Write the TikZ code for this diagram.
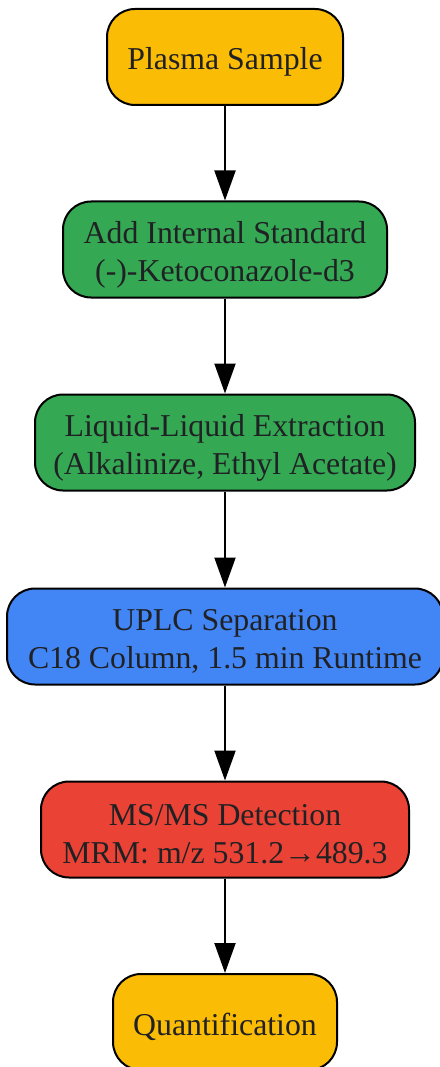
\documentclass[tikz,border=0pt]{standalone}
\usepackage{fontspec}
\setmainfont{Liberation Serif}
\usetikzlibrary{arrows.meta}
\definecolor{gy}{HTML}{FBBC05}
\definecolor{gg}{HTML}{34A853}
\definecolor{gb}{HTML}{4285F4}
\definecolor{gr}{HTML}{EA4335}
\definecolor{tx}{HTML}{202124}
\tikzset{
  stepbox/.style={draw=black, line width=2pt, rounded corners=28pt,
    inner sep=0pt, minimum height=96pt},
  steptext/.style={align=center, text=tx, font=\fontsize{31.8}{38}\selectfont,
    inner sep=0pt, yshift=-5pt},
  flow/.style={line width=2pt, -{Triangle[length=30pt,width=21pt]}}
}
\begin{document}
\begin{tikzpicture}[x=1pt,y=1pt]
\useasboundingbox (0,0) rectangle (439,-1067);
\node[stepbox, fill=gy, minimum width=236pt,
  label={[steptext]center:Plasma Sample}] (a) at (225,-57) {};
\node[stepbox, fill=gg, minimum width=324pt,
  label={[steptext]center:Add Internal Standard\\(-)-Ketoconazole-d3}] (b) at (225,-249.5) {};
\node[stepbox, fill=gg, minimum width=380pt,
  label={[steptext]center:Liquid-Liquid Extraction\\(Alkalinize, Ethyl Acetate)}] (c) at (225,-442.5) {};
\node[stepbox, fill=gb, minimum width=436pt,
  label={[steptext]center:UPLC Separation\\C18 Column, 1.5 min Runtime}] (d) at (225,-636.5) {};
\node[stepbox, fill=gr, minimum width=368pt,
  label={[steptext]center:MS/MS Detection\\MRM: m/z 531.2→489.3}] (e) at (225,-829.5) {};
\node[stepbox, fill=gy, minimum width=224pt,
  label={[steptext]center:Quantification}] (f) at (225,-1022) {};
\draw[flow] (a.south) -- (b.north);
\draw[flow] (b.south) -- (c.north);
\draw[flow] (c.south) -- (d.north);
\draw[flow] (d.south) -- (e.north);
\draw[flow] (e.south) -- (f.north);
\end{tikzpicture}
\end{document}
